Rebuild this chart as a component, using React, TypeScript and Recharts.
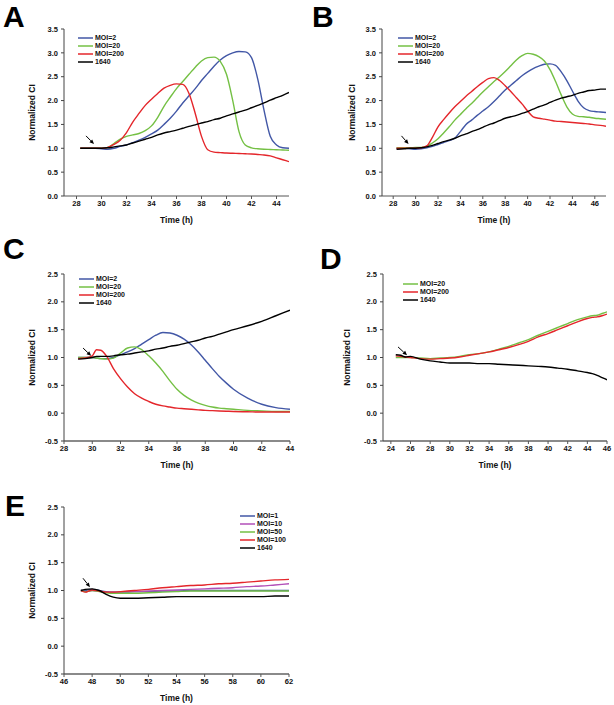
import React from 'react';
import { LineChart, Line, XAxis, YAxis, Legend, ReferenceLine } from 'recharts';

const FONT = '"Liberation Sans", Arial, Helvetica, sans-serif';

const BLUE = '#4257a6';
const GREEN = '#74c044';
const RED = '#e4262b';
const BLACK = '#000000';
const PURPLE = '#b24fb8';

// ---------- Panel A ----------
const timeA = [28.3, 29, 29.5, 30, 30.5, 31, 31.5, 32, 32.5, 33, 33.5, 34, 34.5, 35, 35.5, 36, 36.5, 37, 37.5, 38, 38.5, 39, 39.5, 40, 40.5, 41, 41.5, 42, 42.5, 43, 43.5, 44, 44.5, 45];
const aMoi2 = [1.0, 1.0, 1.0, 0.99, 0.98, 1.0, 1.04, 1.07, 1.12, 1.17, 1.23, 1.3, 1.38, 1.5, 1.63, 1.78, 1.95, 2.1, 2.25, 2.42, 2.57, 2.72, 2.85, 2.94, 3.0, 3.03, 3.02, 2.9, 2.45, 1.8, 1.25, 1.07, 1.01, 1.0];
const aMoi20 = [1.0, 1.0, 1.0, 1.0, 1.02, 1.1, 1.19, 1.25, 1.28, 1.31, 1.37, 1.47, 1.65, 1.88, 2.07, 2.25, 2.4, 2.55, 2.7, 2.83, 2.9, 2.91, 2.82, 2.55, 2.0, 1.35, 1.07, 1.01, 0.99, 0.98, 0.975, 0.97, 0.965, 0.96];
const aMoi200 = [1.0, 1.0, 1.0, 1.0, 1.02, 1.08, 1.17, 1.33, 1.55, 1.73, 1.9, 2.03, 2.15, 2.26, 2.32, 2.35, 2.34, 2.15, 1.73, 1.25, 0.97, 0.92, 0.91, 0.9, 0.895, 0.89, 0.885, 0.88, 0.87, 0.86, 0.84, 0.8, 0.76, 0.72];
const a1640 = [1.0, 1.0, 1.0, 1.0, 1.01, 1.03, 1.05, 1.07, 1.11, 1.15, 1.19, 1.23, 1.28, 1.32, 1.35, 1.38, 1.42, 1.46, 1.49, 1.53, 1.56, 1.6, 1.63, 1.68, 1.72, 1.76, 1.8, 1.85, 1.9, 1.95, 2.01, 2.06, 2.11, 2.17];

// ---------- Panel B ----------
const timeB = [28.3, 29, 29.5, 30, 30.5, 31, 31.5, 32, 32.5, 33, 33.5, 34, 34.5, 35, 35.5, 36, 36.5, 37, 37.5, 38, 38.5, 39, 39.5, 40, 40.5, 41, 41.5, 42, 42.5, 43, 43.5, 44, 44.5, 45, 45.5, 46, 46.5, 47];
const bMoi2 = [1.0, 1.0, 0.99, 0.98, 0.99, 1.01, 1.04, 1.08, 1.12, 1.16, 1.21, 1.35, 1.5, 1.59, 1.69, 1.78, 1.87, 1.98, 2.1, 2.22, 2.32, 2.42, 2.52, 2.6, 2.67, 2.72, 2.76, 2.77, 2.74, 2.6, 2.42, 2.2, 1.99, 1.85, 1.79, 1.77, 1.76, 1.75];
const bMoi20 = [1.01, 1.01, 1.01, 1.02, 1.02, 1.04, 1.11, 1.2, 1.32, 1.45, 1.59, 1.71, 1.83, 1.94, 2.06, 2.18, 2.29, 2.4, 2.5, 2.61, 2.73, 2.85, 2.94, 2.99, 2.97, 2.92, 2.83, 2.65, 2.4, 2.12, 1.87, 1.72, 1.67, 1.66, 1.65, 1.63, 1.62, 1.61];
const bMoi200 = [1.0, 1.0, 1.0, 1.0, 1.01, 1.05, 1.23, 1.45, 1.6, 1.74, 1.87, 1.98, 2.09, 2.19, 2.29, 2.38, 2.46, 2.48, 2.42, 2.31, 2.19, 2.06, 1.93, 1.78, 1.66, 1.63, 1.61, 1.59, 1.57, 1.56, 1.55, 1.54, 1.53, 1.52, 1.51, 1.49, 1.48, 1.46];
const b1640 = [0.98, 0.99, 1.0, 1.0, 1.01, 1.03, 1.06, 1.1, 1.14, 1.17, 1.21, 1.26, 1.3, 1.35, 1.39, 1.44, 1.49, 1.53, 1.58, 1.63, 1.66, 1.69, 1.73, 1.77, 1.82, 1.87, 1.91, 1.96, 2.01, 2.05, 2.08, 2.11, 2.15, 2.18, 2.21, 2.22, 2.24, 2.24];

// ---------- Panel C ----------
const timeC = [29, 29.5, 30, 30.3, 30.6, 31, 31.5, 32, 32.5, 33, 33.5, 34, 34.5, 35, 35.5, 36, 36.5, 37, 37.5, 38, 38.5, 39, 39.5, 40, 41, 42, 43, 44];
const cMoi2 = [1.0, 1.0, 1.0, 0.99, 0.98, 0.98, 1.0, 1.05, 1.1, 1.16, 1.24, 1.32, 1.4, 1.45, 1.44, 1.4, 1.33, 1.23, 1.1, 0.95, 0.8, 0.66, 0.54, 0.43, 0.27, 0.16, 0.1, 0.07];
const cMoi20 = [1.0, 1.0, 1.0, 0.99, 0.98, 0.97, 0.99, 1.08, 1.17, 1.19, 1.14, 1.03, 0.9, 0.75, 0.58, 0.43, 0.32, 0.24, 0.18, 0.14, 0.11, 0.09, 0.08, 0.07, 0.05, 0.04, 0.03, 0.03];
const cMoi200 = [0.98, 0.99, 1.03, 1.14, 1.13, 1.03, 0.8, 0.62, 0.47, 0.35, 0.27, 0.21, 0.16, 0.13, 0.11, 0.09, 0.08, 0.07, 0.06, 0.05, 0.045, 0.04, 0.035, 0.03, 0.025, 0.02, 0.02, 0.02];
const c1640 = [0.97, 0.98, 1.0, 1.02, 1.02, 1.02, 1.03, 1.05, 1.06, 1.08, 1.1, 1.12, 1.15, 1.17, 1.2, 1.22, 1.25, 1.28, 1.31, 1.35, 1.38, 1.42, 1.46, 1.5, 1.57, 1.65, 1.75, 1.85];

// ---------- Panel D ----------
const timeD = [24.5, 25, 25.5, 26, 27, 28, 29, 30, 31, 32, 33, 34, 35, 36, 37, 38, 39, 40, 41, 42, 43, 44, 44.5, 45, 45.5, 46];
const dMoi20 = [1.0, 1.0, 1.0, 1.0, 0.99, 0.98, 0.99, 1.0, 1.02, 1.05, 1.07, 1.1, 1.15, 1.2, 1.26, 1.32, 1.4, 1.47, 1.54, 1.61, 1.68, 1.73, 1.75, 1.76, 1.79, 1.82];
const dMoi200 = [1.03, 1.02, 1.01, 1.0, 0.98, 0.97, 0.98, 0.99, 1.01, 1.04, 1.07, 1.1, 1.14, 1.18, 1.23, 1.29, 1.37, 1.43, 1.5, 1.57, 1.64, 1.7, 1.72, 1.73, 1.75, 1.78];
const d1640 = [1.05, 1.04, 1.01, 1.02, 0.97, 0.94, 0.92, 0.9, 0.9, 0.9, 0.89, 0.89, 0.88, 0.87, 0.86, 0.85, 0.84, 0.83, 0.81, 0.79, 0.76, 0.73, 0.71, 0.68, 0.64, 0.6];

// ---------- Panel E ----------
const timeE = [47.2, 47.5, 48, 48.5, 49, 49.5, 50, 50.5, 51, 52, 53, 54, 55, 56, 57, 58, 59, 60, 61, 62];
const eMoi1 = [1.0, 1.0, 1.02, 1.0, 0.98, 0.97, 0.97, 0.97, 0.98, 0.98, 0.99, 0.99, 1.0, 1.0, 1.0, 1.0, 1.0, 1.0, 1.0, 1.0];
const eMoi10 = [1.0, 0.98, 1.0, 0.99, 0.97, 0.97, 0.97, 0.98, 0.98, 0.99, 1.0, 1.01, 1.02, 1.03, 1.04, 1.05, 1.07, 1.08, 1.1, 1.12];
const eMoi50 = [1.0, 0.98, 1.0, 0.98, 0.96, 0.95, 0.95, 0.95, 0.95, 0.96, 0.97, 0.98, 0.99, 0.99, 0.99, 0.99, 0.99, 0.99, 0.99, 0.99];
const eMoi100 = [1.0, 0.97, 1.01, 0.99, 0.97, 0.97, 0.98, 0.99, 1.0, 1.02, 1.05, 1.07, 1.09, 1.1, 1.12, 1.13, 1.15, 1.17, 1.19, 1.2];
const e1640 = [1.0, 1.02, 1.03, 1.0, 0.93, 0.88, 0.86, 0.86, 0.86, 0.87, 0.88, 0.89, 0.89, 0.89, 0.89, 0.89, 0.89, 0.89, 0.9, 0.9];

// axis ticks
const ticksA = [28, 30, 32, 34, 36, 38, 40, 42, 44];
const ticksB = [28, 30, 32, 34, 36, 38, 40, 42, 44, 46];
const ticksC = [28, 30, 32, 34, 36, 38, 40, 42, 44];
const ticksD = [24, 26, 28, 30, 32, 34, 36, 38, 40, 42, 44, 46];
const ticksE = [46, 48, 50, 52, 54, 56, 58, 60, 62];
const yTicksAB = [0, 0.5, 1, 1.5, 2, 2.5, 3, 3.5];
const yTicksCDE = [-0.5, 0, 0.5, 1, 1.5, 2, 2.5];

// arrow annotations (start, tip) in data units
const arrowA = [[28.76, 1.26], [29.4, 1.09]];
const arrowB = [[28.74, 1.26], [29.37, 1.09]];
const arrowC = [[29.35, 1.17], [29.92, 1.03]];
const arrowD = [[24.73, 1.19], [25.65, 1.04]];
const arrowE = [[47.35, 1.22], [47.85, 1.06]];

type S = { key: string; name: string; color: string; values: number[] };

const seriesA: S[] = [
  { key: 'moi2', name: 'MOI=2', color: BLUE, values: aMoi2 },
  { key: 'moi20', name: 'MOI=20', color: GREEN, values: aMoi20 },
  { key: 'moi200', name: 'MOI=200', color: RED, values: aMoi200 },
  { key: 'c1640', name: '1640', color: BLACK, values: a1640 },
];
const seriesB: S[] = [
  { key: 'moi2', name: 'MOI=2', color: BLUE, values: bMoi2 },
  { key: 'moi20', name: 'MOI=20', color: GREEN, values: bMoi20 },
  { key: 'moi200', name: 'MOI=200', color: RED, values: bMoi200 },
  { key: 'c1640', name: '1640', color: BLACK, values: b1640 },
];
const seriesC: S[] = [
  { key: 'moi2', name: 'MOI=2', color: BLUE, values: cMoi2 },
  { key: 'moi20', name: 'MOI=20', color: GREEN, values: cMoi20 },
  { key: 'moi200', name: 'MOI=200', color: RED, values: cMoi200 },
  { key: 'c1640', name: '1640', color: BLACK, values: c1640 },
];
const seriesD: S[] = [
  { key: 'moi20', name: 'MOI=20', color: GREEN, values: dMoi20 },
  { key: 'moi200', name: 'MOI=200', color: RED, values: dMoi200 },
  { key: 'c1640', name: '1640', color: BLACK, values: d1640 },
];
const seriesE: S[] = [
  { key: 'moi1', name: 'MOI=1', color: BLUE, values: eMoi1 },
  { key: 'moi10', name: 'MOI=10', color: PURPLE, values: eMoi10 },
  { key: 'moi50', name: 'MOI=50', color: GREEN, values: eMoi50 },
  { key: 'moi100', name: 'MOI=100', color: RED, values: eMoi100 },
  { key: 'c1640', name: '1640', color: BLACK, values: e1640 },
];

function toRows(times: number[], series: S[]) {
  return times.map((t, i) => {
    const row: Record<string, number> = { t };
    series.forEach((s) => (row[s.key] = s.values[i]));
    return row;
  });
}

const ArrowShape = (props: any) => {
  const { x1, y1, x2, y2 } = props;
  if ([x1, y1, x2, y2].some((v) => v == null || isNaN(v))) return null;
  const ang = Math.atan2(y2 - y1, x2 - x1);
  const L = 4.5;
  const W = 2;
  const bx = x2 - L * Math.cos(ang);
  const by = y2 - L * Math.sin(ang);
  const pts = `${x2},${y2} ${bx + W * Math.sin(ang)},${by - W * Math.cos(ang)} ${bx - W * Math.sin(ang)},${by + W * Math.cos(ang)}`;
  return (
    <g>
      <line x1={x1} y1={y1} x2={bx} y2={by} stroke="#000" strokeWidth={1} />
      <polygon points={pts} fill="#000" />
    </g>
  );
};

const tickStyle = { fontSize: 7.5, fontWeight: 700, fill: '#111', fontFamily: FONT };

type PanelProps = {
  letter: string;
  letterX: number;
  letterY: number;
  x: number;
  y: number;
  w: number;
  h: number;
  yw: number;
  mr?: number;
  times: number[];
  series: S[];
  xDomain: [number, number];
  xTicks: number[];
  yDomain: [number, number];
  yTicks: number[];
  legendX: number;
  legendY: number;
  arrow: number[][];
  thickX?: boolean;
};

function Panel(p: PanelProps) {
  const mt = 10;
  const xh = 48;
  const mr = p.mr ?? 10;
  const data = toRows(p.times, p.series);
  const left = p.x - p.yw;
  const top = p.y - mt;
  return (
    <>
      <div
        style={{
          position: 'absolute',
          left: p.letterX,
          top: Math.max(0, p.letterY - 6),
          fontFamily: FONT,
          fontWeight: 700,
          fontSize: 30,
          lineHeight: 'normal',
        }}
      >
        {p.letter}
      </div>
      <div style={{ position: 'absolute', left, top }}>
        <LineChart
          width={p.yw + p.w + mr}
          height={mt + p.h + xh}
          data={data}
          margin={{ top: mt, right: mr, left: 0, bottom: 0 }}
        >
          <XAxis
            dataKey="t"
            type="number"
            domain={p.xDomain}
            ticks={p.xTicks}
            allowDataOverflow
            height={xh}
            tickSize={3}
            tickMargin={2}
            tick={tickStyle}
            axisLine={{ stroke: p.thickX ? '#8a8a8a' : '#555', strokeWidth: p.thickX ? 1.8 : 1 }}
            tickLine={{ stroke: '#555' }}
            label={{
              value: 'Time (h)',
              position: 'center',
              fontSize: 8.5,
              fontWeight: 700,
              fill: '#111',
              fontFamily: FONT,
            }}
          />
          <YAxis
            type="number"
            domain={p.yDomain}
            ticks={p.yTicks}
            allowDataOverflow
            width={p.yw}
            tickSize={3}
            tickMargin={3}
            tick={tickStyle}
            tickFormatter={(v: number) => v.toFixed(1)}
            axisLine={{ stroke: '#444' }}
            tickLine={{ stroke: '#444' }}
            label={{
              value: 'Normalized CI',
              position: 'center',
              angle: -90,
              fontSize: 8.5,
              fontWeight: 700,
              fill: '#111',
              fontFamily: FONT,
            }}
          />
          <Legend
            layout="vertical"
            align="center"
            verticalAlign="middle"
            wrapperStyle={{ left: p.legendX - left, top: p.legendY - top - 4, width: 'auto', height: 'auto' }}
            content={() => (
              <div>
                {p.series.map((s) => (
                  <div key={s.key} style={{ display: 'flex', alignItems: 'center', height: 8 }}>
                    <svg width={15} height={8} style={{ marginRight: 2, display: 'block' }}>
                      <line x1={0} y1={4} x2={15} y2={4} stroke={s.color} strokeWidth={1.5} />
                    </svg>
                    <span style={{ fontSize: 7, fontWeight: 700, fontFamily: FONT, color: '#111', lineHeight: '8px', whiteSpace: 'nowrap' }}>
                      {s.name}
                    </span>
                  </div>
                ))}
              </div>
            )}
          />
          {p.series.map((s) => (
            <Line
              key={s.key}
              dataKey={s.key}
              name={s.name}
              type="monotone"
              stroke={s.color}
              strokeWidth={1.4}
              dot={false}
              activeDot={false}
              isAnimationActive={false}
            />
          ))}
          <ReferenceLine
            segment={[
              { x: p.arrow[0][0], y: p.arrow[0][1] },
              { x: p.arrow[1][0], y: p.arrow[1][1] },
            ]}
            ifOverflow="visible"
            shape={ArrowShape}
          />
        </LineChart>
      </div>
    </>
  );
}

export default function App() {
  return (
    <div
      style={{
        position: 'absolute',
        left: 0,
        top: 0,
        width: 614,
        height: 705,
        overflow: 'hidden',
        background: '#fff',
      }}
    >
      <Panel
        letter="A" letterX={3} letterY={3}
        x={64} y={29} w={225} h={167} yw={64}
        times={timeA} series={seriesA}
        xDomain={[27, 45]} xTicks={ticksA} yDomain={[0, 3.5]} yTicks={yTicksAB}
        legendX={78} legendY={38} arrow={arrowA}
      />
      <Panel
        letter="B" letterX={312} letterY={3}
        x={382} y={29} w={224} h={167} yw={60} mr={5}
        times={timeB} series={seriesB}
        xDomain={[27, 47]} xTicks={ticksB} yDomain={[0, 3.5]} yTicks={yTicksAB}
        legendX={398} legendY={38} arrow={arrowB}
      />
      <Panel
        letter="C" letterX={3} letterY={238}
        x={64} y={274} w={226} h={167} yw={64}
        times={timeC} series={seriesC}
        xDomain={[28, 44]} xTicks={ticksC} yDomain={[-0.5, 2.5]} yTicks={yTicksCDE}
        legendX={79} legendY={279} arrow={arrowC} thickX
      />
      <Panel
        letter="D" letterX={320} letterY={248}
        x={383} y={274} w={224} h={167} yw={72} mr={5}
        times={timeD} series={seriesD}
        xDomain={[23.2, 46]} xTicks={ticksD} yDomain={[-0.5, 2.5]} yTicks={yTicksCDE}
        legendX={403} legendY={284} arrow={arrowD} thickX
      />
      <Panel
        letter="E" letterX={5} letterY={495}
        x={64} y={507} w={225} h={167} yw={64}
        times={timeE} series={seriesE}
        xDomain={[46, 62]} xTicks={ticksE} yDomain={[-0.5, 2.5]} yTicks={yTicksCDE}
        legendX={240} legendY={516} arrow={arrowE} thickX
      />
    </div>
  );
}
